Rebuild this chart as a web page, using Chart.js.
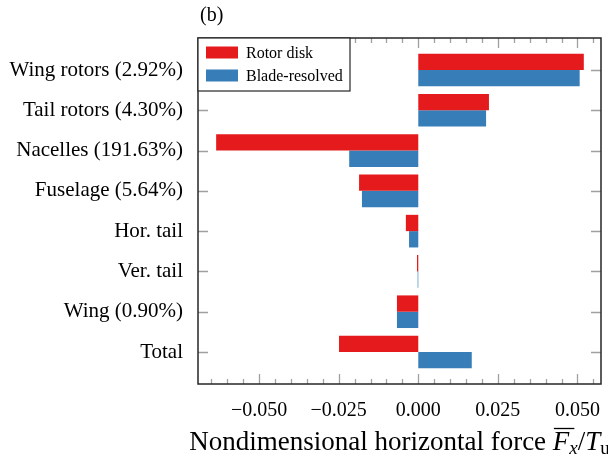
<!DOCTYPE html>
<html>
<head>
<meta charset="utf-8">
<script src="https://cdn.jsdelivr.net/npm/chart.js@4"></script>
<style>
  html, body { margin: 0; padding: 0; background: #fff; }
  canvas { display: block; }
</style>
</head>
<body>
<canvas id="forceChart" width="608" height="459"></canvas>
<script>
// components, top to bottom
const categories = ['Wing rotors (2.92%)', 'Tail rotors (4.30%)', 'Nacelles (191.63%)',
  'Fuselage (5.64%)', 'Hor. tail', 'Ver. tail', 'Wing (0.90%)', 'Total'];
// nondimensional horizontal force per component
const rotorDisk = [0.0520, 0.0222, -0.0635, -0.0186, -0.0039, -0.0004, -0.0067, -0.0249];
const bladeResolved = [0.0507, 0.0213, -0.0217, -0.0177, -0.0029, -0.0002, -0.0067, 0.0168];
const xTicks = [-0.05, -0.025, 0, 0.025, 0.05];
const xMinorStep = 0.005;

const SERIF = '"Liberation Serif", "Times New Roman", serif';
const RED = '#e41a1c';
const BLUE = '#377eb8';

function toPoints(values) {
  return values.map((v, i) => ({ x: v, y: i }));
}

// frame, inward ticks, legend, panel tag and axis title
const decorations = {
  id: 'decorations',
  afterDraw(chart) {
    const { ctx, chartArea: a, scales } = chart;
    const xs = scales.x, ys = scales.y;
    ctx.save();

    // ticks
    ctx.strokeStyle = '#a0a0a0';
    ctx.lineWidth = 1.3;
    ctx.beginPath();
    const start = Math.ceil(xs.min / xMinorStep) * xMinorStep;
    for (let v = start; v <= xs.max + 1e-9; v += xMinorStep) {
      const isMajor = xTicks.some(t => Math.abs(t - v) < 1e-6);
      const len = isMajor ? 10 : 5;
      const px = Math.round(xs.getPixelForValue(v)) + 0.5;
      ctx.moveTo(px, a.bottom); ctx.lineTo(px, a.bottom - len);
      ctx.moveTo(px, a.top); ctx.lineTo(px, a.top + len);
    }
    categories.forEach((_, i) => {
      const py = Math.round(ys.getPixelForValue(i)) + 0.5;
      ctx.moveTo(a.left, py); ctx.lineTo(a.left + 10, py);
      ctx.moveTo(a.right, py); ctx.lineTo(a.right - 10, py);
    });
    ctx.stroke();

    // frame
    ctx.strokeStyle = '#262626';
    ctx.lineWidth = 1.5;
    ctx.strokeRect(a.left, a.top, a.right - a.left, a.bottom - a.top);

    // legend
    const lx = a.left, ly = a.top, lw = 152, lh = 53;
    ctx.fillStyle = '#fff';
    ctx.fillRect(lx, ly, lw, lh);
    ctx.lineWidth = 1.2;
    ctx.strokeRect(lx, ly, lw, lh);
    ctx.font = '16px ' + SERIF;
    ctx.textBaseline = 'middle';
    ctx.textAlign = 'left';
    chart.data.datasets.forEach((ds, i) => {
      const cy = ly + 14.5 + i * 23;
      ctx.fillStyle = ds.backgroundColor;
      ctx.fillRect(lx + 8, cy - 6, 32, 12);
      ctx.fillStyle = '#000';
      ctx.fillText(ds.label, lx + 48, cy + 1);
    });

    // panel tag
    ctx.textBaseline = 'alphabetic';
    ctx.font = '20px ' + SERIF;
    ctx.fillText('(b)', a.left + 2, 21);

    // axis title: Nondimensional horizontal force F̄x / Tu
    const big = 27, small = 19;
    const parts = [
      { t: 'Nondimensional horizontal force ', f: big + 'px ' + SERIF, dy: 0 },
      { t: 'F', f: 'italic ' + big + 'px ' + SERIF, dy: 0, bar: true },
      { t: 'x', f: 'italic ' + small + 'px ' + SERIF, dy: 4 },
      { t: '/', f: big + 'px ' + SERIF, dy: 0 },
      { t: 'T', f: 'italic ' + big + 'px ' + SERIF, dy: 0 },
      { t: 'u', f: small + 'px ' + SERIF, dy: 4 }
    ];
    let total = 0;
    parts.forEach(p => { ctx.font = p.f; p.w = ctx.measureText(p.t).width; total += p.w; });
    let x = (a.left + a.right) / 2 - total / 2;
    const base = 450;
    parts.forEach(p => {
      ctx.font = p.f;
      ctx.fillText(p.t, x, base + p.dy);
      if (p.bar) {
        ctx.strokeStyle = '#000';
        ctx.lineWidth = 1.3;
        ctx.beginPath();
        ctx.moveTo(x + 1, base - 21.5);
        ctx.lineTo(x + p.w + 5, base - 21.5);
        ctx.stroke();
      }
      x += p.w;
    });

    ctx.restore();
  }
};

const ctx = document.getElementById('forceChart').getContext('2d');
const forceChart = new Chart(ctx, {
  type: 'bar',
  data: {
    datasets: [
      { label: 'Rotor disk', data: toPoints(rotorDisk), backgroundColor: RED },
      { label: 'Blade-resolved', data: toPoints(bladeResolved), backgroundColor: BLUE }
    ]
  },
  options: {
    responsive: false,
    animation: false,
    indexAxis: 'y',
    layout: { padding: { top: 38, right: 7, left: 0, bottom: 0 } },
    datasets: {
      bar: { categoryPercentage: 0.81, barPercentage: 1, borderWidth: 0 }
    },
    plugins: {
      legend: { display: false },
      tooltip: { enabled: false }
    },
    scales: {
      x: {
        type: 'linear',
        min: -0.0692,
        max: 0.0574,
        offset: false,
        grid: { display: false },
        border: { display: false },
        afterBuildTicks: scale => { scale.ticks = xTicks.map(v => ({ value: v })); },
        afterFit: scale => { scale.height = 75; },
        ticks: {
          padding: 7,
          color: '#000',
          font: { family: SERIF, size: 20 },
          maxRotation: 0,
          callback: v => (Math.abs(v) < 1e-9 ? 0 : v).toFixed(3).replace('-', '\u2212')
        }
      },
      y: {
        type: 'linear',
        reverse: true,
        offset: false,
        min: -0.794,
        max: 7.794,
        grid: { display: false },
        border: { display: false },
        afterBuildTicks: scale => { scale.ticks = categories.map((_, i) => ({ value: i })); },
        afterFit: scale => { scale.width = 198; },
        ticks: {
          padding: 7,
          color: '#000',
          font: { family: SERIF, size: 21 },
          callback: v => categories[v]
        }
      }
    }
  },
  plugins: [decorations]
});
</script>
</body>
</html>
